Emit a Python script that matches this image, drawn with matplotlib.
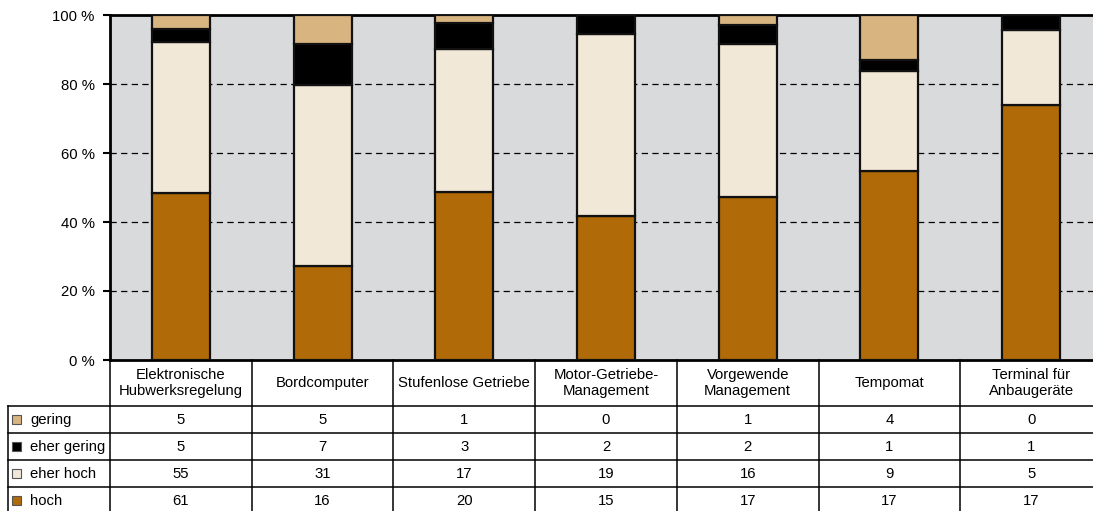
import matplotlib
matplotlib.use("Agg")
import matplotlib.pyplot as plt
import numpy as np
from matplotlib.patches import Rectangle

plt.rcParams['font.family'] = ['Liberation Sans', 'DejaVu Sans']

categories = ["Elektronische\nHubwerksregelung", "Bordcomputer", "Stufenlose Getriebe",
              "Motor-Getriebe-\nManagement", "Vorgewende\nManagement", "Tempomat",
              "Terminal für\nAnbaugeräte"]
series_names = ["hoch", "eher hoch", "eher gering", "gering"]
hoch = [61, 16, 20, 15, 17, 17, 17]
eher_hoch = [55, 31, 17, 19, 16, 9, 5]
eher_gering = [5, 7, 3, 2, 2, 1, 1]
gering = [5, 5, 1, 0, 1, 4, 0]
colors = ["#b06a08", "#f2e8d8", "#000000", "#d8b480"]
yticks = [0, 20, 40, 60, 80, 100]

W, H = 1093, 511
fig = plt.figure(figsize=(W / 100, H / 100), dpi=100)

# plot area in pixel coordinates
px_l, px_r, px_t, px_b = 110, 1102, 15, 360
ax = fig.add_axes([px_l / W, 1 - px_b / H, (px_r - px_l) / W, (px_b - px_t) / H])
ax.set_facecolor("#d9dadc")

data = np.array([hoch, eher_hoch, eher_gering, gering], dtype=float)
pct = data / data.sum(axis=0) * 100
x = np.arange(len(categories))
bottom = np.zeros(len(categories))
for vals, c in zip(pct, colors):
    ax.bar(x, vals, bottom=bottom, width=0.41, color=c, edgecolor="#111111",
           linewidth=1.6, zorder=3)
    bottom += vals

ax.set_xlim(-0.5, 6.5)
ax.set_ylim(0, 100)
ax.set_yticks(yticks)
ax.set_yticklabels([f"{v} %" for v in yticks], fontsize=10.7)
ax.set_xticks([])
for v in yticks[1:-1]:
    ax.axhline(v, color="black", linestyle=(0, (5, 3.5)), linewidth=0.9, zorder=1)
for s in ["left", "top", "bottom"]:
    ax.spines[s].set_linewidth(2)
    ax.spines[s].set_color("black")
ax.spines["right"].set_visible(False)
ax.tick_params(axis="y", length=5, width=1.5, pad=6)

# data table below the plot
tb_l, tb_b = 8, 514
hdr, rowh = 46, 27
tax = fig.add_axes([tb_l / W, 1 - tb_b / H, (px_r - tb_l) / W, (tb_b - px_b) / H])
unit = (px_r - px_l) / 7.0
x0 = -0.5 - (px_l - tb_l) / unit
tax.set_xlim(x0, 6.5)
tax.set_ylim(hdr + 4 * rowh, 0)
tax.axis("off")

lw = 1.1
fs = 10.7
# vertical separators
for i in range(8):
    xv = i - 0.5
    tax.plot([xv, xv], [0, hdr + 4 * rowh], color="black", lw=lw, clip_on=False)
tax.plot([x0, x0], [hdr, hdr + 4 * rowh], color="black", lw=lw, clip_on=False)
# horizontal separators
for r in range(4):
    yv = hdr + r * rowh
    tax.plot([x0, 6.5], [yv, yv], color="black", lw=lw, clip_on=False)

for i, cat in enumerate(categories):
    tax.text(i, hdr / 2, cat, ha="center", va="center", fontsize=fs, linespacing=1.1)

row_order = [3, 2, 1, 0]  # gering, eher gering, eher hoch, hoch
for r, si in enumerate(row_order):
    yc = hdr + r * rowh + rowh / 2
    sq_w = 9 / unit
    tax.add_patch(Rectangle((x0 + 4 / unit, yc - 4.5), sq_w, 9, facecolor=colors[si],
                            edgecolor="#555555", linewidth=0.8, clip_on=False))
    tax.text(x0 + 22 / unit, yc, series_names[si], ha="left", va="center", fontsize=fs)
    for i in range(len(categories)):
        tax.text(i, yc, str(int(data[si, i])), ha="center", va="center", fontsize=fs)

fig.savefig("out.png", dpi=100)
